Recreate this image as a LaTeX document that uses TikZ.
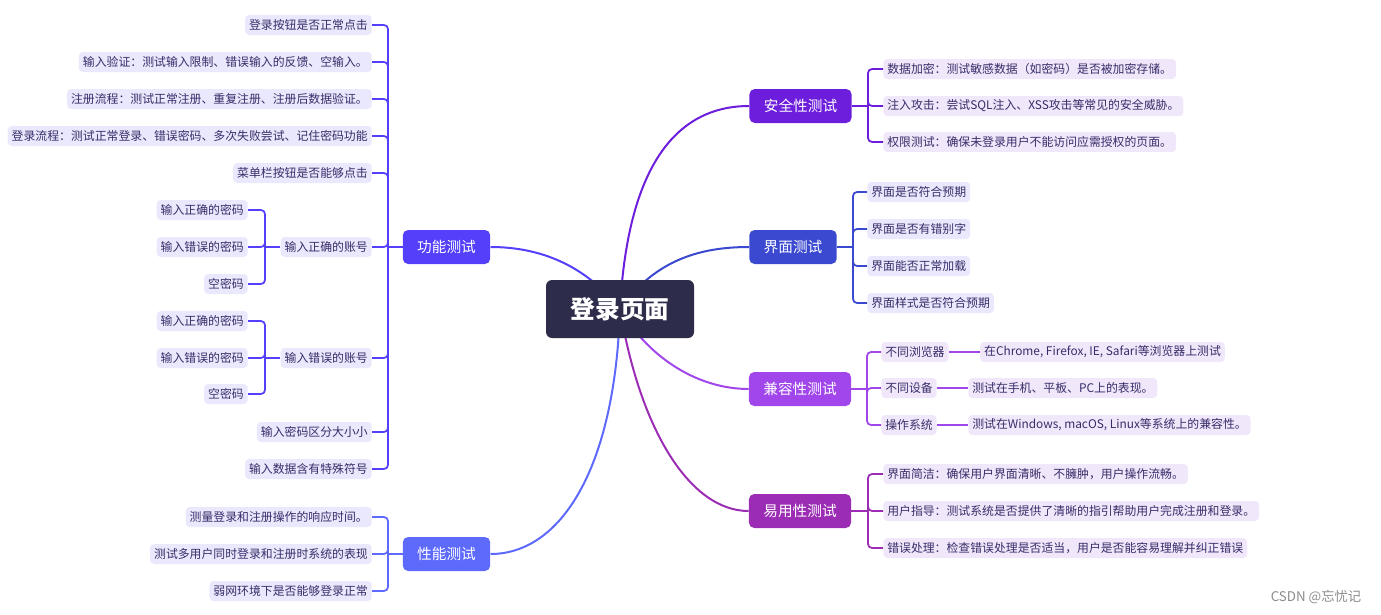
\documentclass[tikz,border=0pt]{standalone}
\usepackage{fontspec}
\setmainfont{Noto Sans CJK SC}
\usepackage{xcolor}
\usetikzlibrary{positioning, backgrounds, calc}
\definecolor{rootbg}{RGB}{45,45,75}
\definecolor{fnc}{RGB}{84,64,250}
\definecolor{perfc}{RGB}{94,106,252}
\definecolor{secc}{RGB}{108,30,220}
\definecolor{uic}{RGB}{58,73,208}
\definecolor{compc}{RGB}{160,70,235}
\definecolor{usec}{RGB}{155,45,180}
\definecolor{leafbg}{RGB}{234,232,252}
\definecolor{leafbgp}{RGB}{241,231,250}
\definecolor{leaftxt}{RGB}{55,45,105}

\begin{document}
\begin{tikzpicture}[
  x=0.75pt, y=-0.75pt,
  node distance=23.25pt,
  root/.style={fill=rootbg, text=white, rounded corners=4.5pt, minimum width=111pt, minimum height=43.5pt, font=\fontsize{18.5}{20}\selectfont\bfseries},
  branch/.style={fill=#1, text=white, rounded corners=4pt, minimum height=25.5pt, inner xsep=10.8pt, font=\fontsize{11}{13}\selectfont},
  leaf/.style={fill=#1, text=leaftxt, rounded corners=3pt, minimum height=15pt, inner xsep=3pt, inner ysep=0pt, font=\fontsize{8.9}{11}\selectfont},
  leaf/.default=leafbg,
  leafl/.style={leaf, anchor=east},
  leafr/.style={leaf=#1, anchor=west},
  leafr/.default=leafbg,
  link/.style={line width=1.5pt, draw=#1},
  bus/.style={line width=1.3pt, draw=#1, rounded corners=3pt}
]
  \useasboundingbox (0,0) rectangle (1381,614);

  % centre and main topics
  \node[root] (root) at (620,309) {登录页面};
  \node[branch=fnc] (fn) at (446.5,247) {功能测试};
  \node[branch=perfc] (perf) at (446.5,554) {性能测试};
  \node[branch=secc] (sec) at (800.5,106) {安全性测试};
  \node[branch=uic] (ui) at (793,247) {界面测试};
  \node[branch=compc] (comp) at (800,389) {兼容性测试};
  \node[branch=usec] (use) at (800,511) {易用性测试};

  \begin{pgfonlayer}{background}
    \draw[link=fnc] (root.center) .. controls (585,265) and (540,247) .. (fn.east);
    \draw[link=perfc] (root.center) .. controls (615,470) and (560,554) .. (perf.east);
    \draw[link=secc] (root.center) .. controls (628,160) and (680,106) .. (sec.west);
    \draw[link=uic] (root.center) .. controls (655,260) and (700,247) .. (ui.west);
    \draw[link=compc] (root.center) .. controls (650,360) and (700,389) .. (comp.west);
    \draw[link=usec] (root.center) .. controls (640,430) and (690,511) .. (use.west);
  \end{pgfonlayer}

  % 功能测试
  \coordinate (fnbus) at (388,247);
  \foreach \y/\n/\t in {25/f1/{登录按钮是否正常点击},
      62/f2/{输入验证：测试输入限制、错误输入的反馈、空输入。},
      99/f3/{注册流程：测试正常注册、重复注册、注册后数据验证。},
      136/f4/{登录流程：测试正常登录、错误密码、多次失败尝试、记住密码功能},
      173/f5/{菜单栏按钮是否能够点击},
      247/f6/{输入正确的账号},
      358/f7/{输入错误的账号},
      432/f8/{输入密码区分大小小},
      469/f9/{输入数据含有特殊符号}}
    \node[leafl] (\n) at (372,\y) {\t};
  \draw[link=fnc] (fn.west) -- (fnbus);
  \foreach \n in {f1,f2,f3,f4,f5,f6,f7,f8,f9}
    \draw[bus=fnc] (fnbus) |- (\n.east);

  \coordinate (f6bus) at (265,247);
  \node[leafl] (f6a) at (248,210) {输入正确的密码};
  \node[leafl] (f6b) at (248,247) {输入错误的密码};
  \node[leafl] (f6c) at (248,284) {空密码};
  \draw[bus=fnc] (f6.west) -- (f6bus);
  \foreach \n in {f6a,f6b,f6c}
    \draw[bus=fnc] (f6bus) |- (\n.east);

  \coordinate (f7bus) at (265,358);
  \node[leafl] (f7a) at (248,321) {输入正确的密码};
  \node[leafl] (f7b) at (248,358) {输入错误的密码};
  \node[leafl] (f7c) at (248,394) {空密码};
  \draw[bus=fnc] (f7.west) -- (f7bus);
  \foreach \n in {f7a,f7b,f7c}
    \draw[bus=fnc] (f7bus) |- (\n.east);

  % 性能测试
  \coordinate (perfbus) at (388,554);
  \node[leafl] (p1) at (372,517) {测量登录和注册操作的响应时间。};
  \node[leafl] (p2) at (372,554) {测试多用户同时登录和注册时系统的表现};
  \node[leafl] (p3) at (372,591) {弱网环境下是否能够登录正常};
  \draw[link=perfc] (perf.west) -- (perfbus);
  \foreach \n in {p1,p2,p3}
    \draw[bus=perfc] (perfbus) |- (\n.east);

  % 安全性测试
  \coordinate (secbus) at (868,106);
  \node[leafr=leafbgp] (s1) at (883,69) {数据加密：测试敏感数据（如密码）是否被加密存储。};
  \node[leafr=leafbgp] (s2) at (883,106) {注入攻击：尝试SQL注入、XSS攻击等常见的安全威胁。};
  \node[leafr=leafbgp] (s3) at (883,142) {权限测试：确保未登录用户不能访问应需授权的页面。};
  \draw[link=secc] (sec.east) -- (secbus);
  \foreach \n in {s1,s2,s3}
    \draw[bus=secc] (secbus) |- (\n.west);

  % 界面测试
  \coordinate (uibus) at (853,247);
  \node[leafr] (u1) at (867,192) {界面是否符合预期};
  \node[leafr] (u2) at (867,229) {界面是否有错别字};
  \node[leafr] (u3) at (867,266) {界面能否正常加载};
  \node[leafr] (u4) at (867,303) {界面样式是否符合预期};
  \draw[link=uic] (ui.east) -- (uibus);
  \foreach \n in {u1,u2,u3,u4}
    \draw[bus=uic] (uibus) |- (\n.west);

  % 兼容性测试
  \coordinate (compbus) at (867,389);
  \node[leafr=leafbgp] (c1) at (881,352) {不同浏览器};
  \node[leafr=leafbgp] (c2) at (881,388) {不同设备};
  \node[leafr=leafbgp] (c3) at (881,425) {操作系统};
  \node[leafr=leafbgp, right=of c1] (c1a) {在Chrome, Firefox, IE, Safari等浏览器上测试};
  \node[leafr=leafbgp, right=of c2] (c2a) {测试在手机、平板、PC上的表现。};
  \node[leafr=leafbgp, right=of c3] (c3a) {测试在Windows, macOS, Linux等系统上的兼容性。};
  \draw[link=compc] (comp.east) -- (compbus);
  \foreach \n in {c1,c2,c3}
    \draw[bus=compc] (compbus) |- (\n.west);
  \foreach \n in {c1,c2,c3}
    \draw[bus=compc] (\n.east) -- (\n a.west);

  % 易用性测试
  \coordinate (usebus) at (868,511);
  \node[leafr=leafbgp] (e1) at (883,474) {界面简洁：确保用户界面清晰、不臃肿，用户操作流畅。};
  \node[leafr=leafbgp] (e2) at (883,511) {用户指导：测试系统是否提供了清晰的指引帮助用户完成注册和登录。};
  \node[leafr=leafbgp] (e3) at (883,548) {错误处理：检查错误处理是否适当，用户是否能容易理解并纠正错误};
  \draw[link=usec] (use.east) -- (usebus);
  \foreach \n in {e1,e2,e3}
    \draw[bus=usec] (usebus) |- (\n.west);

  \node[text=black!45, font=\fontsize{10}{12}\selectfont] (mark) at (1316,597) {CSDN @忘忧记};
\end{tikzpicture}
\end{document}
